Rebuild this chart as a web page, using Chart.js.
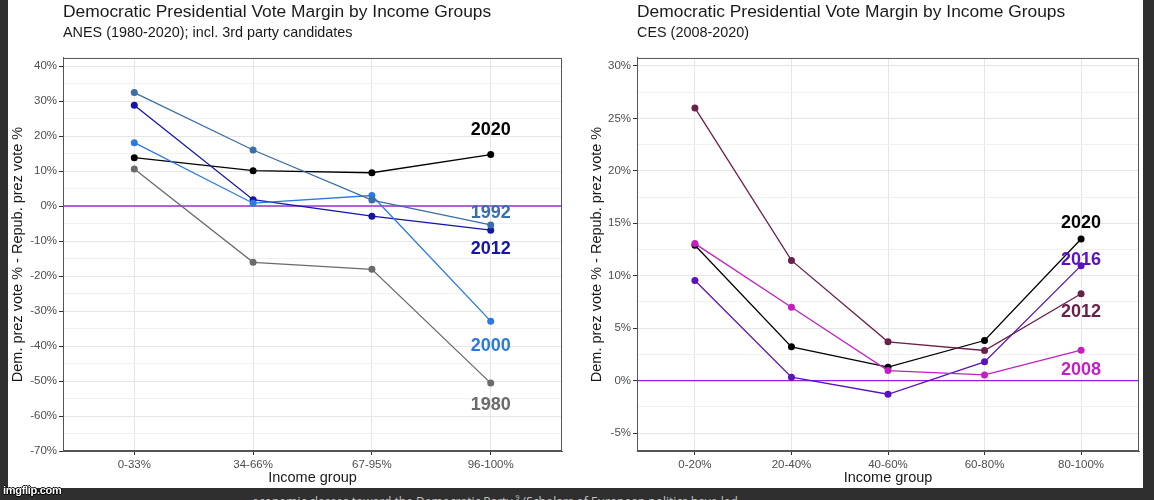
<!DOCTYPE html>
<html>
<head>
<meta charset="utf-8">
<script src="https://cdn.jsdelivr.net/npm/chart.js@4/dist/chart.umd.min.js"></script>
<style>
  body { margin: 0; width: 1154px; height: 500px; overflow: hidden; position: relative; background: #fff; font-family: "Liberation Sans", Arial, sans-serif; }
  canvas { position: absolute; top: 0; }
  #chartAnes { left: 0; }
  #chartCes { left: 580px; }
  .band { position: absolute; background: #2f2f2f; overflow: hidden; }
  #bandLeft { left: 0; top: 0; width: 8px; height: 500px; }
  #bandRight { left: 1143px; top: 0; width: 11px; height: 500px; }
  #bandBottom { left: 0; top: 488px; width: 1154px; height: 12px; }
  #footText { position: absolute; left: 252px; top: 3px; white-space: nowrap; font: 12px/14px "Open Sans", sans-serif; color: #c4c4c4; }
  #footText sup { font-size: 7px; vertical-align: 6px; }
  #mark { position: absolute; left: 3px; top: 484px; font: bold 11px "Liberation Sans", Arial, sans-serif; color: #fff; letter-spacing: -0.3px;
          text-shadow: -1px 0 #000, 1px 0 #000, 0 -1px #000, 0 1px #000; }
</style>
</head>
<body>
<canvas id="chartAnes" width="580" height="488"></canvas>
<canvas id="chartCes" width="574" height="488"></canvas>
<div class="band" id="bandLeft"></div>
<div class="band" id="bandRight"></div>
<div class="band" id="bandBottom"><div id="footText">economic classes toward the Democratic Party.<sup>9</sup> (Scholars of European politics have led</div></div>
<div id="mark">imgflip.com</div>
<script>
// ANES panel (left)
const anesGroups = ["0-33%", "34-66%", "67-95%", "96-100%"];
const anesYears = ["1980", "1992", "2000", "2012", "2020"];
const anes1980 = [10.6, -16.1, -18.1, -50.6];
const anes1992 = [32.4, 16.0, 1.7, -5.4];
const anes2000 = [18.1, 0.8, 3.0, -32.9];
const anes2012 = [28.8, 1.8, -2.9, -6.9];
const anes2020 = [13.8, 10.1, 9.5, 14.7];
const anesLabelY = [-57.0, -2.0, -40.0, -12.2, 21.7];
const anesYTicks = [-70, -60, -50, -40, -30, -20, -10, 0, 10, 20, 30, 40];

// CES panel (right)
const cesGroups = ["0-20%", "20-40%", "40-60%", "60-80%", "80-100%"];
const cesYears = ["2008", "2012", "2016", "2020"];
const ces2008 = [13.06, 7.0, 0.96, 0.54, 2.9];
const ces2012 = [26.0, 11.46, 3.7, 2.87, 8.28];
const ces2016 = [9.55, 0.32, -1.3, 1.79, 10.96];
const ces2020 = [12.9, 3.22, 1.28, 3.82, 13.5];
const cesLabelY = [1.0, 6.5, 11.46, 15.0];
const cesYTicks = [-5, 0, 5, 10, 15, 20, 25, 30];

const FONT = '"Liberation Sans", Arial, sans-serif';
const TXT = "#1a1a1a";
const TICK_TXT = "#4d4d4d";

// box round the panel + year labels at the right end
const panelExtras = {
  id: "panelExtras",
  afterDatasetsDraw(chart, args, opts) {
    const { ctx, chartArea: a, scales: { x, y } } = chart;
    ctx.save();
    ctx.strokeStyle = "#555";
    ctx.lineWidth = 1;
    ctx.strokeRect(a.left + 0.5, a.top + 0.5, a.width - 1, a.height - 1);
    ctx.font = "bold 18px " + FONT;
    ctx.textAlign = "center";
    ctx.textBaseline = "middle";
    opts.labels.forEach((t, i) => {
      ctx.fillStyle = opts.colors[i];
      ctx.fillText(t, x.getPixelForValue(opts.xPos), y.getPixelForValue(opts.yVals[i]));
    });
    ctx.restore();
  }
};

function toPoints(values) {
  return values.map((v, i) => ({ x: i, y: v }));
}

function buildChart(canvasId, cfg) {
  const n = cfg.groups.length;
  const majors = cfg.yTicks;
  const step = majors[1] - majors[0];
  const allTicks = [];
  majors.forEach(v => { allTicks.push(v); allTicks.push(v + step / 2); });

  const datasets = cfg.series.map((vals, i) => ({
    label: cfg.years[i],
    data: toPoints(vals),
    borderColor: cfg.colors[i],
    backgroundColor: cfg.colors[i],
    pointBackgroundColor: cfg.colors[i],
    pointBorderWidth: 0,
    pointRadius: 3.5,
    borderWidth: 1.3,
    order: 1
  }));
  // horizontal reference line at zero
  datasets.push({
    label: "zero",
    data: [{ x: -0.6, y: 0 }, { x: n - 0.4, y: 0 }],
    borderColor: cfg.zeroColor,
    borderWidth: 1.4,
    pointRadius: 0,
    order: 5
  });

  return new Chart(document.getElementById(canvasId), {
    type: "line",
    data: { datasets },
    plugins: [panelExtras],
    options: {
      responsive: false,
      animation: false,
      layout: { padding: { left: 0, right: cfg.padRight, top: 0, bottom: 0 } },
      plugins: {
        legend: { display: false },
        tooltip: { enabled: false },
        title: {
          display: true, text: "Democratic Presidential Vote Margin by Income Groups",
          align: "start", fullSize: false, color: TXT,
          font: { family: FONT, size: 17.4, weight: "normal" }, padding: { top: 2, bottom: 2 }
        },
        subtitle: {
          display: true, text: cfg.subtitle,
          align: "start", fullSize: false, color: TXT,
          font: { family: FONT, size: 14.4, weight: "normal" }, padding: { top: 0, bottom: 15.8 }
        },
        panelExtras: { labels: cfg.years, colors: cfg.colors, yVals: cfg.labelY, xPos: n - 1 }
      },
      scales: {
        x: {
          type: "linear", min: -0.6, max: n - 0.4,
          afterBuildTicks: s => { s.ticks = cfg.groups.map((g, i) => ({ value: i })); },
          afterFit: s => { s.height = 37; },
          ticks: { autoSkip: false, maxRotation: 0, padding: 3, color: TICK_TXT,
                   font: { family: FONT, size: 11.5 }, callback: v => cfg.groups[v] },
          grid: { color: "#e6e6e6", lineWidth: 1, tickLength: 4, tickColor: "#333" },
          border: { display: true, color: "#555" },
          title: { display: true, text: "Income group", color: TXT,
                   font: { family: FONT, size: 14.5 }, padding: { top: 0, bottom: 1.3 } }
        },
        y: {
          min: cfg.yMin, max: cfg.yMax,
          afterBuildTicks: s => { s.ticks = allTicks.filter(v => v >= cfg.yMin && v <= cfg.yMax).map(v => ({ value: v })); },
          afterFit: s => { s.width = cfg.yWidth; },
          ticks: { autoSkip: false, padding: 2, color: TICK_TXT, font: { family: FONT, size: 11.5 },
                   callback: v => majors.includes(v) ? v + "%" : "" },
          grid: {
            color: c => majors.includes(c.tick.value) ? "#e6e6e6" : "#f0f0f0",
            lineWidth: 1, tickLength: 4,
            tickColor: c => majors.includes(c.tick.value) ? "#333" : "rgba(0,0,0,0)"
          },
          border: { display: true, color: "#555" },
          title: { display: true, text: "Dem. prez vote % - Repub. prez vote %", color: TXT,
                   font: { family: FONT, size: 14.5 }, padding: { top: cfg.yTitlePad, bottom: 0 } }
        }
      }
    }
  });
}

buildChart("chartAnes", {
  groups: anesGroups,
  years: anesYears,
  series: [anes1980, anes1992, anes2000, anes2012, anes2020],
  colors: ["#6b6b6b", "#3b6da6", "#2a7ae0", "#1414a8", "#000000"],
  labelY: anesLabelY,
  yTicks: anesYTicks,
  yMin: -70, yMax: 42.3,
  zeroColor: "#9933cc",
  subtitle: "ANES (1980-2020); incl. 3rd party candidates",
  yWidth: 63, yTitlePad: 9.3, padRight: 18
});

buildChart("chartCes", {
  groups: cesGroups,
  years: cesYears,
  series: [ces2008, ces2012, ces2016, ces2020],
  colors: ["#c21fc4", "#6b1f4b", "#5a12c2", "#000000"],
  labelY: cesLabelY,
  yTicks: cesYTicks,
  yMin: -6.71, yMax: 30.76,
  zeroColor: "#8a22e0",
  subtitle: "CES (2008-2020)",
  yWidth: 57, yTitlePad: 8.3, padRight: 15
});
</script>
</body>
</html>
